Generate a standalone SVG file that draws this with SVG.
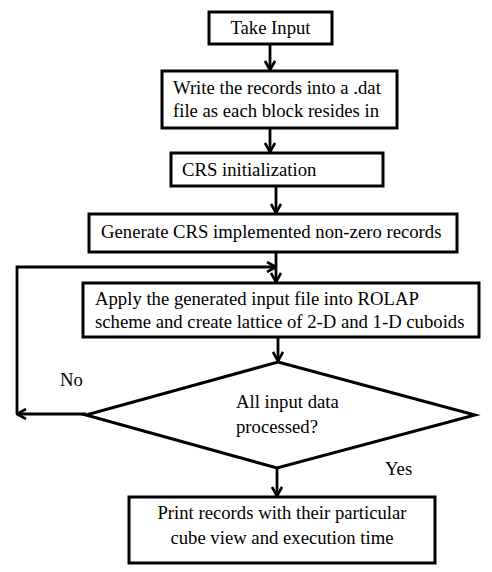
<svg xmlns="http://www.w3.org/2000/svg" width="492" height="572" viewBox="0 0 492 572">
<style>
.box{fill:#fff;stroke:#000;stroke-width:3}
text{font-family:'Liberation Serif', 'Times New Roman', serif;font-size:18.7px;fill:#000}
.c{text-anchor:middle}
.ln{fill:none;stroke:#000;stroke-width:2.8}
</style>
<defs>
<marker id="ah" viewBox="0 0 12 12" refX="11" refY="6" markerWidth="12" markerHeight="12" markerUnits="userSpaceOnUse" orient="auto">
<polyline points="2,1 11,6 2,11" fill="none" stroke="#000" stroke-width="2.6"/>
</marker>
</defs>
<g id="connectors">
<line class="ln" x1="270" y1="44" x2="270" y2="70" marker-end="url(#ah)"/>
<line class="ln" x1="270" y1="128" x2="270" y2="152" marker-end="url(#ah)"/>
<line class="ln" x1="276" y1="186" x2="276" y2="213" marker-end="url(#ah)"/>
<line class="ln" x1="276" y1="252" x2="276" y2="282" marker-end="url(#ah)"/>
<line class="ln" x1="86" y1="414" x2="17" y2="414" marker-end="url(#ah)"/>
<polyline class="ln" points="17,414 17,267 276,267" marker-end="url(#ah)"/>
<line class="ln" x1="278" y1="337" x2="278" y2="361" marker-end="url(#ah)"/>
<line class="ln" x1="277" y1="468" x2="277" y2="496" marker-end="url(#ah)"/>
<text x="60" y="386">No</text>
<text x="385" y="475">Yes</text>
</g>
<g id="n1"><rect class="box" x="209" y="12" width="123" height="32"/><text class="c" x="270.5" y="34">Take Input</text></g>
<g id="n2"><rect class="box" x="162" y="71" width="235" height="57"/><text x="173" y="94">Write the records into a .dat</text><text x="173" y="117">file  as each block resides in</text></g>
<g id="n3"><rect class="box" x="171" y="153" width="212" height="33"/><text x="182" y="176">CRS initialization</text></g>
<g id="n4"><rect class="box" x="89" y="214" width="368" height="38"/><text x="101" y="238">Generate CRS implemented non-zero records</text></g>
<g id="n5"><rect class="box" x="83" y="283" width="396" height="54"/><text x="95" y="305">Apply the generated input file into ROLAP</text><text x="95" y="328">scheme and create lattice of 2-D and 1-D cuboids</text></g>
<g id="n6"><polygon class="box" points="278,362 475,415 277,468 86,415"/><text x="236" y="408">All input data</text><text x="236" y="433">processed?</text></g>
<g id="n7"><rect class="box" x="129" y="497" width="306" height="66"/><text class="c" x="282" y="519">Print records with their particular</text><text class="c" x="282" y="544">cube view and execution time</text></g>
</svg>
